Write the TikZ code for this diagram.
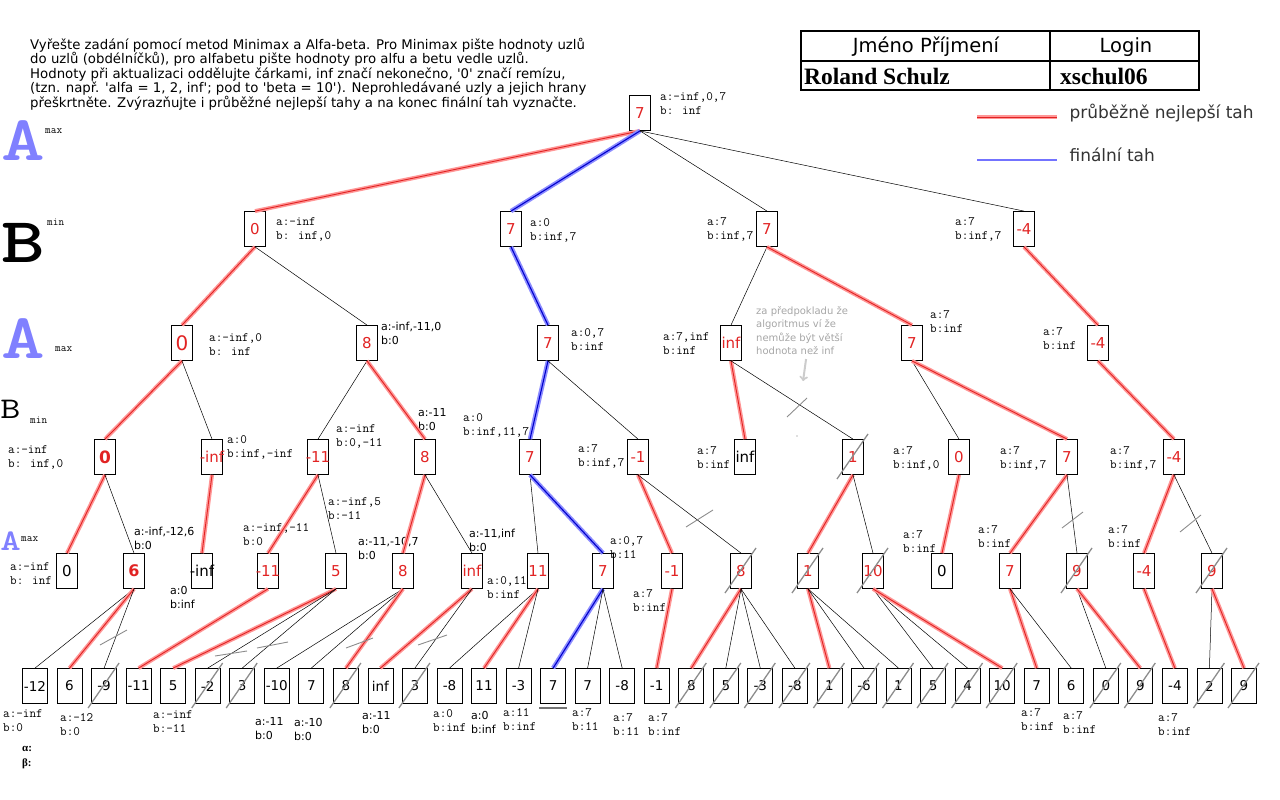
\documentclass[tikz,border=0pt]{standalone}
\usepackage{fontspec}
\setmainfont{DejaVu Sans}
\newfontfamily\timesfont{Liberation Serif}
\definecolor{lettera}{RGB}{128,128,255}
\definecolor{valred}{RGB}{225,35,35}
\definecolor{bandred}{RGB}{255,150,150}
\definecolor{bandblue}{RGB}{140,140,255}
\tikzset{
	val/.style={draw, line width=.8pt, minimum width=21pt, minimum height=35pt, inner sep=0pt, text=valred, font=\fontsize{15}{15}\selectfont},
	leaf/.style={draw, line width=.8pt, minimum width=25pt, minimum height=35pt, inner sep=0pt, font=\fontsize{13.5}{13.5}\selectfont},
	ab/.style={anchor=west, align=left, inner sep=0pt, font=\ttfamily\fontsize{12.8}{14}\selectfont},
	abs/.style={anchor=west, align=left, inner sep=0pt, font=\fontsize{11}{14}\selectfont},
	edge/.style={line width=.5pt},
	best/.style={valred, line width=.9pt, preaction={draw=bandred, line width=4pt}},
	final/.style={blue!80!black, line width=1.1pt, preaction={draw=bandblue, line width=4.5pt}},
	cut/.style={black!45, line width=1.3pt},
	side/.style={inner sep=0pt, font=\ttfamily\fontsize{11}{11}\selectfont},
	player/.style={anchor=base west, inner sep=0pt, xscale=1.3, transform shape}
}
\newcommand{\crossnode}[1]{\draw[cut] ([shift={(-16,22)}]#1.center) -- ([shift={(15,-23)}]#1.center);}

\begin{document}
\begin{tikzpicture}[x=1pt, y=-1pt]
	\useasboundingbox (0,0) rectangle (1280,800);

	%%task text
	\node[anchor=north west, align=left, inner sep=0pt, font=\fontsize{13.3}{14.5}\selectfont] (task) at (30,38) {Vyřešte zadání pomocí metod Minimax a Alfa-beta. Pro Minimax pište hodnoty uzlů\\do uzlů (obdélníčků), pro alfabetu pište hodnoty pro alfu a betu vedle uzlů.\\Hodnoty při aktualizaci oddělujte čárkami, inf značí nekonečno, \textquotesingle0\textquotesingle{} značí remízu,\\(tzn. např. \textquotesingle alfa = 1, 2, inf\textquotesingle; pod to \textquotesingle beta = 10\textquotesingle). Neprohledávané uzly a jejich hrany\\přeškrtněte. Zvýrazňujte i průběžné nejlepší tahy a na konec finální tah vyznačte.};

	%%name table
	\draw[line width=2pt] (801,31) rectangle (1199,90);
	\draw[line width=2pt] (1050,31) -- (1050,90);
	\draw[line width=2pt] (801,61) -- (1199,61);
	\node[font=\fontsize{19.5}{19.5}\selectfont] (jmeno) at (926,47) {Jméno Příjmení};
	\node[font=\fontsize{19.5}{19.5}\selectfont] (login) at (1126,47) {Login};
	\node[anchor=west, inner sep=0pt, font=\timesfont\bfseries\fontsize{23.5}{23.5}\selectfont] (student) at (804,76) {Roland Schulz};
	\node[anchor=west, inner sep=0pt, font=\timesfont\bfseries\fontsize{23.5}{23.5}\selectfont] (xlogin) at (1060,76) {xschul06};

	%%legend
	\coordinate (lgbesta) at (977,117);
	\coordinate (lgbestb) at (1057,117);
	\draw[best] (lgbesta) -- (lgbestb);
	\node[anchor=west, text=black!80, font=\fontsize{17}{17}\selectfont] (lgbest) at (1066,113) {průběžně nejlepší tah};
	\coordinate (lgfinala) at (977,160);
	\coordinate (lgfinalb) at (1057,160);
	\draw[blue!55, line width=2pt] (lgfinala) -- (lgfinalb);
	\node[anchor=west, text=black!80, font=\fontsize{17}{17}\selectfont] (lgfinal) at (1066,155) {finální tah};

	%%players on the left
	\node[player, text=lettera, font=\ttfamily\bfseries\fontsize{64}{64}\selectfont] (pa1) at (1,160) {A};
	\node[side, anchor=west] (pa1s) at (45,131) {max};
	\node[player, font=\ttfamily\bfseries\fontsize{64}{64}\selectfont] (pb1) at (1,262) {B};
	\node[side, anchor=west] (pb1s) at (47,222) {min};
	\node[player, text=lettera, font=\ttfamily\bfseries\fontsize{64}{64}\selectfont] (pa2) at (1,358) {A};
	\node[side, anchor=west] (pa2s) at (55,349) {max};
	\node[player, font=\ttfamily\fontsize{30}{30}\selectfont] (pb2) at (0,418) {B};
	\node[side, anchor=west] (pb2s) at (30,420) {min};
	\node[player, text=lettera, font=\ttfamily\bfseries\fontsize{30}{30}\selectfont] (pa3) at (0,550) {A};
	\node[side, anchor=west] (pa3s) at (21,539) {max};

	%%root
	\node[val] (root) at (640,113) {7};
	\node[ab] (abroot) at (660,104) {a:-inf,0,7\\b: inf};

	%%B level
	\node[val] (b1) at (255,229) {0};
	\node[ab] (abb1) at (276,229) {a:-inf\\b: inf,0};
	\node[val] (b2) at (511,229) {7};
	\node[ab] (abb2) at (530,230) {a:0\\b:inf,7};
	\node[val] (b3) at (767,229) {7};
	\node[ab] (abb3) at (707,229) {a:7\\b:inf,7};
	\node[val] (b4) at (1024,229) {-4};
	\node[ab] (abb4) at (955,229) {a:7\\b:inf,7};

	%%A level
	\node[val, font=\fontsize{20}{20}\selectfont] (a1) at (182,343) {0};
	\node[ab] (aba1) at (209,345) {a:-inf,0\\b: inf};
	\node[val] (a2) at (367,343) {8};
	\node[abs] (aba2) at (381,333) {a:-inf,-11,0\\b:0};
	\node[val] (a3) at (548,343) {7};
	\node[ab] (aba3) at (571,340) {a:0,7\\b:inf};
	\node[val] (a4) at (731,343) {inf};
	\node[ab] (aba4) at (663,344) {a:7,inf\\b:inf};
	\node[val] (a5) at (912,343) {7};
	\node[ab] (aba5) at (930,322) {a:7\\b:inf};
	\node[val] (a6) at (1098,343) {-4};
	\node[ab] (aba6) at (1043,339) {a:7\\b:inf};

	%%note
	\node[anchor=north west, align=left, inner sep=0pt, text=black!35, font=\fontsize{10}{13.5}\selectfont] (note) at (756,306) {za předpokladu že\\algoritmus ví že\\nemůže být větší\\hodnota než inf};
	\draw[black!20, line width=2pt, ->] ([xshift=4pt, yshift=-4pt]note.south) -- ++(-3,22);

	%%B min level
	\node[val, font=\bfseries\fontsize{17}{17}\selectfont] (c1) at (105,457) {0};
	\node[ab] (abc1) at (8,457) {a:-inf\\b: inf,0};
	\node[val] (c2) at (212,457) {\makebox[0pt]{-inf}};
	\node[ab] (abc2) at (227,447) {a:0\\b:inf,-inf};
	\node[val] (c3) at (318,457) {\makebox[0pt]{-11}};
	\node[ab] (abc3) at (336,436) {a:-inf\\b:0,-11};
	\node[val] (c4) at (425,457) {8};
	\node[abs] (abc4) at (418,420) {a:-11\\b:0};
	\node[val] (c5) at (530,457) {7};
	\node[ab] (abc5) at (463,425) {a:0\\b:inf,11,7};
	\node[val] (c6) at (638,457) {-1};
	\node[ab] (abc6) at (578,456) {a:7\\b:inf,7};
	\node[val, text=black] (c7) at (745,457) {inf};
	\node[ab] (abc7) at (697,458) {a:7\\b:inf};
	\node[val] (c8) at (853,457) {1};
	\node[val] (c9) at (959,457) {0};
	\node[ab] (abc9) at (893,458) {a:7\\b:inf,0};
	\node[val] (c10) at (1067,457) {7};
	\node[ab] (abc10) at (1000,458) {a:7\\b:inf,7};
	\node[val] (c11) at (1174,457) {-4};
	\node[ab] (abc11) at (1110,458) {a:7\\b:inf,7};

	%%A max level
	\node[val, text=black] (d1) at (67,571) {0};
	\node[ab] (abd1) at (10,574) {a:-inf\\b: inf};
	\node[val, font=\bfseries\fontsize{16}{16}\selectfont] (d2) at (134,571) {6};
	\node[abs] (abd2) at (134,538) {a:-inf,-12,6\\b:0};
	\node[val, text=black] (d3) at (202,571) {\makebox[0pt]{-inf}};
	\node[abs] (abd3) at (170,597) {a:0\\b:inf};
	\node[val] (d4) at (268,571) {\makebox[0pt]{-11}};
	\node[ab] (abd4) at (243,535) {a:-inf,-11\\b:0};
	\node[val] (d5) at (336,571) {5};
	\node[ab] (abd5) at (328,509) {a:-inf,5\\b:-11};
	\node[val] (d6) at (403,571) {8};
	\node[abs] (abd6) at (358,548) {a:-11,-10,7\\b:0};
	\node[val] (d7) at (472,571) {inf};
	\node[abs] (abd7) at (469,540) {a:-11,inf\\b:0};
	\node[val] (d8) at (538,571) {11};
	\node[ab] (abd8) at (487,588) {a:0,11\\b:inf};
	\node[val] (d9) at (603,571) {7};
	\node[ab] (abd9) at (610,548) {a:0,7\\b:11};
	\node[val] (d10) at (672,571) {-1};
	\node[ab] (abd10) at (633,601) {a:7\\b:inf};
	\node[val] (d11) at (741,571) {8};
	\node[val] (d12) at (808,571) {1};
	\node[val] (d13) at (873,571) {10};
	\node[val, text=black] (d14) at (942,571) {0};
	\node[ab] (abd14) at (903,542) {a:7\\b:inf};
	\node[val] (d15) at (1010,571) {7};
	\node[ab] (abd15) at (978,537) {a:7\\b:inf};
	\node[val] (d16) at (1077,571) {9};
	\node[val] (d17) at (1144,571) {-4};
	\node[ab] (abd17) at (1108,537) {a:7\\b:inf};
	\node[val] (d18) at (1212,571) {9};

	%%leaves
	\node[leaf] (l1) at (35,686) {-12};
	\node[leaf] (l2) at (69.5,686) {6};
	\node[leaf] (l3) at (104.1,686) {-9};
	\node[leaf] (l4) at (138.6,686) {-11};
	\node[leaf] (l5) at (173.2,686) {5};
	\node[leaf] (l6) at (207.7,686) {-2};
	\node[leaf] (l7) at (242.2,686) {3};
	\node[leaf] (l8) at (276.8,686) {-10};
	\node[leaf] (l9) at (311.3,686) {7};
	\node[leaf] (l10) at (345.9,686) {8};
	\node[leaf] (l11) at (380.4,686) {inf};
	\node[leaf] (l12) at (414.9,686) {3};
	\node[leaf] (l13) at (449.5,686) {-8};
	\node[leaf] (l14) at (484,686) {11};
	\node[leaf] (l15) at (518.6,686) {-3};
	\node[leaf] (l16) at (553.1,686) {7};
	\node[leaf] (l17) at (587.6,686) {7};
	\node[leaf] (l18) at (622.2,686) {-8};
	\node[leaf] (l19) at (656.7,686) {-1};
	\node[leaf] (l20) at (691.3,686) {8};
	\node[leaf] (l21) at (725.8,686) {5};
	\node[leaf] (l22) at (760.3,686) {-3};
	\node[leaf] (l23) at (794.9,686) {-8};
	\node[leaf] (l24) at (829.4,686) {1};
	\node[leaf] (l25) at (864,686) {-6};
	\node[leaf] (l26) at (898.5,686) {1};
	\node[leaf] (l27) at (933.1,686) {5};
	\node[leaf] (l28) at (967.6,686) {4};
	\node[leaf] (l29) at (1002.2,686) {10};
	\node[leaf] (l30) at (1036.7,686) {7};
	\node[leaf] (l31) at (1071.2,686) {6};
	\node[leaf] (l32) at (1105.8,686) {0};
	\node[leaf] (l33) at (1140.3,686) {9};
	\node[leaf] (l34) at (1174.9,686) {-4};
	\node[leaf] (l35) at (1209.4,686) {2};
	\node[leaf] (l36) at (1244,686) {9};

	%%leaf alfa/beta
	\node[ab] (abl1) at (3,721) {a:-inf\\b:0};
	\node[ab] (abl2) at (60,725) {a:-12\\b:0};
	\node[ab] (abl5) at (153,722) {a:-inf\\b:-11};
	\node[abs] (abl8) at (255,729) {a:-11\\b:0};
	\node[abs] (abl9) at (294,729) {a:-10\\b:0};
	\node[abs] (abl11) at (362,723) {a:-11\\b:0};
	\node[ab] (abl13) at (433,721) {a:0\\b:inf};
	\node[abs] (abl14) at (471,722) {a:0\\b:inf};
	\node[ab] (abl15) at (503,720) {a:11\\b:inf};
	\node[ab] (abl17) at (572,720) {a:7\\b:11};
	\node[ab] (abl18) at (613,725) {a:7\\b:11};
	\node[ab] (abl19) at (648,725) {a:7\\b:inf};
	\node[ab] (abl30) at (1021,720) {a:7\\b:inf};
	\node[ab] (abl31) at (1063,723) {a:7\\b:inf};
	\node[ab] (abl34) at (1158,725) {a:7\\b:inf};
	\node[anchor=west, inner sep=0pt, font=\timesfont\bfseries\fontsize{11}{11}\selectfont] (alpha) at (22,749) {α:};
	\node[anchor=west, inner sep=0pt, font=\timesfont\bfseries\fontsize{11}{11}\selectfont] (beta) at (22,764) {β:};

	%%root moves
	\draw[best] (root.south) -- (b1.north);
	\draw[final] (root.south) -- (b2.north);
	\draw[edge] (root.south) -- (b3.north);
	\draw[edge] (root.south) -- (b4.north);

	%%B moves
	\draw[best] (b1.south) -- (a1.north);
	\draw[edge] (b1.south) -- (a2.north);
	\draw[final] (b2.south) -- (a3.north);
	\draw[edge] (b3.south) -- (a4.north);
	\draw[best] (b3.south) -- (a5.north);
	\draw[best] (b4.south) -- (a6.north);

	%%A moves
	\draw[best] (a1.south) -- (c1.north);
	\draw[edge] (a1.south) -- (c2.north);
	\draw[edge] (a2.south) -- (c3.north);
	\draw[best] (a2.south) -- (c4.north);
	\draw[final] (a3.south) -- (c5.north);
	\draw[edge] (a3.south) -- (c6.north);
	\draw[best] (a4.south) -- (c7.north);
	\draw[edge] (a4.south) -- (c8.north);
	\draw[edge] (a5.south) -- (c9.north);
	\draw[best] (a5.south) -- (c10.north);
	\draw[best] (a6.south) -- (c11.north);

	%%B min moves
	\draw[best] (c1.south) -- (d1.north);
	\draw[edge] (c1.south) -- (d2.north);
	\draw[best] (c2.south) -- (d3.north);
	\draw[best] (c3.south) -- (d4.north);
	\draw[edge] (c3.south) -- (d5.north);
	\draw[best] (c4.south) -- (d6.north);
	\draw[edge] (c4.south) -- (d7.north);
	\draw[edge] (c5.south) -- (d8.north);
	\draw[final] (c5.south) -- (d9.north);
	\draw[best] (c6.south) -- (d10.north);
	\draw[edge] (c6.south) -- (d11.north);
	\draw[best] (c8.south) -- (d12.north);
	\draw[edge] (c8.south) -- (d13.north);
	\draw[best] (c9.south) -- (d14.north);
	\draw[best] (c10.south) -- (d15.north);
	\draw[edge] (c10.south) -- (d16.north);
	\draw[best] (c11.south) -- (d17.north);
	\draw[edge] (c11.south) -- (d18.north);

	%%A max moves to leaves
	\draw[edge] (d2.south) -- (l1.north);
	\draw[best] (d2.south) -- (l2.north);
	\draw[edge] (d2.south) -- (l3.north);
	\draw[best] (d4.south) -- (l4.north);
	\draw[best] (d5.south) -- (l5.north);
	\draw[edge] (d5.south) -- (l6.north);
	\draw[edge] (d5.south) -- (l7.north);
	\draw[edge] (d6.south) -- (l8.north);
	\draw[edge] (d6.south) -- (l9.north);
	\draw[best] (d6.south) -- (l10.north);
	\draw[best] (d7.south) -- (l11.north);
	\draw[edge] (d7.south) -- (l12.north);
	\draw[edge] (d8.south) -- (l13.north);
	\draw[best] (d8.south) -- (l14.north);
	\draw[edge] (d8.south) -- (l15.north);
	\draw[final] (d9.south) -- (l16.north);
	\draw[edge] (d9.south) -- (l17.north);
	\draw[edge] (d9.south) -- (l18.north);
	\draw[best] (d10.south) -- (l19.north);
	\draw[best] (d11.south) -- (l20.north);
	\draw[edge] (d11.south) -- (l21.north);
	\draw[edge] (d11.south) -- (l22.north);
	\draw[edge] (d11.south) -- (l23.north);
	\draw[best] (d12.south) -- (l24.north);
	\draw[edge] (d12.south) -- (l25.north);
	\draw[edge] (d12.south) -- (l26.north);
	\draw[edge] (d13.south) -- (l27.north);
	\draw[edge] (d13.south) -- (l28.north);
	\draw[best] (d13.south) -- (l29.north);
	\draw[best] (d15.south) -- (l30.north);
	\draw[edge] (d15.south) -- (l31.north);
	\draw[edge] (d16.south) -- (l32.north);
	\draw[best] (d16.south) -- (l33.north);
	\draw[best] (d17.south) -- (l34.north);
	\draw[edge] (d18.south) -- (l35.north);
	\draw[best] (d18.south) -- (l36.north);

	%%crossed out nodes
	\crossnode{c8}
	\crossnode{d11}
	\crossnode{d12}
	\crossnode{d13}
	\crossnode{d16}
	\crossnode{d18}
	\crossnode{l3}
	\crossnode{l6}
	\crossnode{l7}
	\crossnode{l10}
	\crossnode{l12}
	\crossnode{l20}
	\crossnode{l21}
	\crossnode{l22}
	\crossnode{l23}
	\crossnode{l24}
	\crossnode{l25}
	\crossnode{l26}
	\crossnode{l27}
	\crossnode{l28}
	\crossnode{l29}
	\crossnode{l32}
	\crossnode{l33}
	\crossnode{l35}
	\crossnode{l36}

	%%crossed out edges
	\draw[cut, line width=.9pt] (100,645) -- (127,630);
	\draw[cut, line width=.9pt] (215,656) -- (247,651);
	\draw[cut, line width=.9pt] (257,648) -- (288,642);
	\draw[cut, line width=.9pt] (346,648) -- (373,638);
	\draw[cut, line width=.9pt] (418,645) -- (447,635);
	\draw[cut, line width=.9pt] (686,527) -- (713,510);
	\draw[cut, line width=.9pt] (787,417) -- (807,398);
	\fill[black!25] (797,436) circle (.8);
	\draw[cut, line width=.9pt] (1062,528) -- (1083,512);
	\draw[cut, line width=.9pt] (1180,532) -- (1201,515);

	%%final leaf mark
	\draw[black!55, line width=1.5pt] ([shift={(-14,22)}]l16.center) -- ([shift={(14,22)}]l16.center);
\end{tikzpicture}
\end{document}
